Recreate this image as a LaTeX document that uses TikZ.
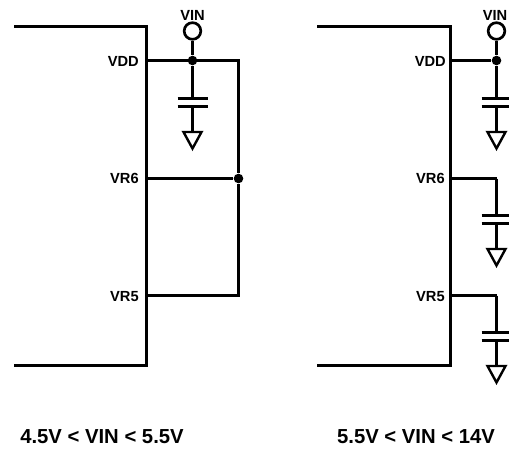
\documentclass[tikz,border=0pt]{standalone}
\usepackage{fontspec}
\setmainfont{Liberation Sans}
\tikzset{
  wire/.style={line width=2.25pt},
  plate/.style={line width=2.25pt},
  gndtri/.style={line width=1.8pt,line join=miter},
  junction/.style={circle,fill=black,inner sep=0pt,minimum size=7.2pt},
  vinring/.style={circle,draw,line width=2pt,fill=white,inner sep=0pt,minimum size=12.5pt},
  pinlabel/.style={font=\bfseries\fontsize{11}{13}\selectfont,inner sep=0pt},
  caption/.style={font=\bfseries\fontsize{15.2}{18}\selectfont,inner sep=0pt}
}
\begin{document}
\begin{tikzpicture}[x=0.75pt,y=-0.75pt]
\useasboundingbox (0,0) rectangle (509,450);

% left circuit
\coordinate (ltop) at (14,26.5);
\coordinate (lcorner) at (146.5,26.5);
\coordinate (lbot) at (146.5,365.5);
\coordinate (lend) at (14,365.5);
\draw [wire,line join=miter] (ltop) -- (lcorner) -- (lbot) -- (lend);

\coordinate (lvdd) at (146.5,60.5);
\coordinate (lvr6) at (146.5,178.5);
\coordinate (lvr5) at (146.5,295.5);
\node [junction] (ljoin) at (192.5,60.5) {};
\node [junction] (lbus) at (238.5,178.5) {};
\coordinate (lvddr) at (238.5,60.5);
\coordinate (lvr5r) at (238.5,295.5);
\draw [wire,line join=miter] (lvdd) -- (lvddr) -- (lbus) -- (lvr5r) -- (lvr5);
\draw [wire] (lvr6) -- (lbus);

\node [vinring] (lvin) at (192.5,31) {};
\draw [wire] (lvin) -- (ljoin);
\node [pinlabel] (lvint) at (192.5,15) {VIN};
\node [pinlabel,left] (lvddt) at (139,61) {VDD};
\node [pinlabel,left] (lvr6t) at (139,178) {VR6};
\node [pinlabel,left] (lvr5t) at (139,297) {VR5};
\node [caption] (lcap) at (102,437) {4.5V < VIN < 5.5V};

% right circuit
\coordinate (rtop) at (317,26.5);
\coordinate (rcorner) at (450.5,26.5);
\coordinate (rbot) at (450.5,365.5);
\coordinate (rend) at (317,365.5);
\draw [wire,line join=miter] (rtop) -- (rcorner) -- (rbot) -- (rend);

\coordinate (rvdd) at (450.5,60.5);
\coordinate (rvr6) at (450.5,178.5);
\coordinate (rvr5) at (450.5,295.5);
\node [junction] (rjoin) at (496.5,60.5) {};
\coordinate (rvr6r) at (496.5,178.5);
\coordinate (rvr5r) at (496.5,295.5);
\draw [wire] (rvdd) -- (rjoin);
\draw [wire] (rvr6) -- (rvr6r);
\draw [wire] (rvr5) -- (rvr5r);

\node [vinring] (rvin) at (496.5,31) {};
\draw [wire] (rvin) -- (rjoin);
\node [pinlabel] (rvint) at (495,15) {VIN};
\node [pinlabel,left] (rvddt) at (446,61) {VDD};
\node [pinlabel,left] (rvr6t) at (445,178) {VR6};
\node [pinlabel,left] (rvr5t) at (445,297) {VR5};
\node [caption] (rcap) at (416,437) {5.5V < VIN < 14V};

% capacitors with ground
\foreach \name/\from/\x/\y/\w in {la/ljoin/192.5/98.5/15, ra/rjoin/496.5/98.5/13, rb/rvr6r/496.5/215.5/13, rc/rvr5r/496.5/332.5/13} {
  \coordinate (\name p) at (\x,\y);
  \coordinate (\name q) at (\x,\y+8);
  \coordinate (\name g) at (\x,\y+33.5);
  \draw [wire] (\from) -- (\name p);
  \draw [plate] (\x-15,\y) -- (\x+\w,\y);
  \draw [plate] (\x-15,\y+8) -- (\x+\w,\y+8);
  \draw [wire] (\name q) -- (\name g);
  \draw [gndtri] (\x-9,\y+33.5) -- (\x+9,\y+33.5) -- (\x,\y+50) -- cycle;
}

\end{tikzpicture}
\end{document}
